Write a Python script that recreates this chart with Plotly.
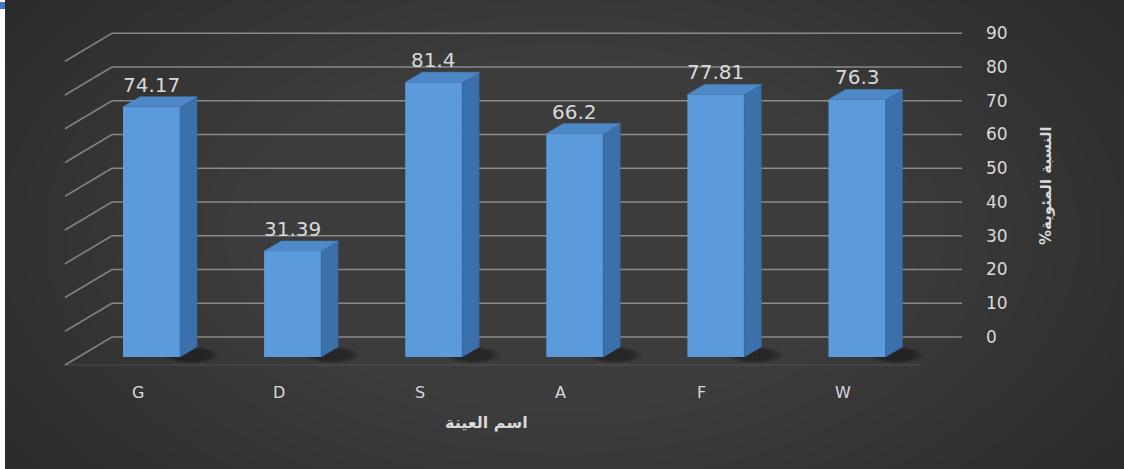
import plotly.graph_objects as go

# Sample names and their organic percentage
categories = ["G", "D", "S", "A", "F", "W"]
values = [74.17, 31.39, 81.4, 66.2, 77.81, 76.3]
tick_values = [0, 10, 20, 30, 40, 50, 60, 70, 80, 90]

W, H = 1124, 469
PX_PER_CAT = 141.1          # horizontal pixels per category step
PX_PER_UNIT = 3.375         # vertical pixels per percent
FIRST_CENTER_PX = 151.5
FRONT_ZERO_PX = 357         # floor line of the bar fronts
BACK_ZERO_PX = 337          # floor line of the back wall
BAR_W = 0.404               # bar width in category units

x0 = -FIRST_CENTER_PX / PX_PER_CAT
x_range = [x0, x0 + W / PX_PER_CAT]
y_range = [-(H - FRONT_ZERO_PX) / PX_PER_UNIT, FRONT_ZERO_PX / PX_PER_UNIT]
y2_range = [-(H - BACK_ZERO_PX) / PX_PER_UNIT, BACK_ZERO_PX / PX_PER_UNIT]


def ux(px):
    return (px - FIRST_CENTER_PX) / PX_PER_CAT


# depth of the bar boxes (right / up)
DX = 17 / PX_PER_CAT
DY = 10 / PX_PER_UNIT

TEXT = "#d9d9d9"
FONT = "DejaVu Sans"

shapes = []

# soft radial lightening of the background
steps = 22
for i in range(steps):
    f = i / (steps - 1)
    shapes.append(dict(type="circle", xref="paper", yref="paper",
                       x0=-0.2 + 0.42 * f, x1=1.2 - 0.42 * f,
                       y0=-0.5 + 0.62 * f, y1=1.5 - 0.62 * f,
                       fillcolor="rgba(255,255,255,0.0085)", line_width=0, layer="below"))

# back wall grid lines and the matching slanted lines on the left wall
wall_left, wall_right, wall_front = ux(112), ux(962), ux(65)
slant = 28 / PX_PER_UNIT
for t in tick_values:
    shapes.append(dict(type="line", xref="x", yref="y2", x0=wall_left, x1=wall_right,
                       y0=t, y1=t, line=dict(color="rgba(205,205,205,0.55)", width=1.6),
                       layer="below"))
    shapes.append(dict(type="line", xref="x", yref="y2", x0=wall_front, x1=wall_left,
                       y0=t - slant, y1=t, line=dict(color="rgba(205,205,205,0.5)", width=1.6),
                       layer="below"))

# faint front edge of the floor
shapes.append(dict(type="line", xref="x", yref="y", x0=wall_front, x1=ux(920),
                   y0=-8 / PX_PER_UNIT, y1=-8 / PX_PER_UNIT,
                   line=dict(color="rgba(255,255,255,0.06)", width=2), layer="below"))

# bar shadows, side faces and top faces
for i, v in enumerate(values):
    xl, xr = i - BAR_W / 2, i + BAR_W / 2
    for k in range(5):
        grow = (4 - k) * 0.018
        shapes.append(dict(type="circle", xref="x", yref="y",
                           x0=xr - 0.05 - grow, x1=xr + DX + 0.08 + grow,
                           y0=-1.2 - grow * 9, y1=2.4 + grow * 9,
                           fillcolor="rgba(0,0,0,0.08)", line_width=0, layer="below"))
    shapes.append(dict(type="path", xref="x", yref="y",
                       path=f"M{xr},{0} L{xr + DX},{DY} L{xr + DX},{v + DY} L{xr},{v} Z",
                       fillcolor="#3b70ab", line=dict(color="#35679e", width=0.5), layer="above"))
    shapes.append(dict(type="path", xref="x", yref="y",
                       path=f"M{xl},{v} L{xl + DX},{v + DY} L{xr + DX},{v + DY} L{xr},{v} Z",
                       fillcolor="#4f88c6", line=dict(color="#4a82bf", width=0.5), layer="above"))

# screen-capture edge details
shapes.append(dict(type="rect", xref="paper", yref="paper", x0=0, x1=5 / W, y0=0, y1=1,
                   fillcolor="white", line_width=0, layer="above"))
shapes.append(dict(type="rect", xref="paper", yref="paper", x0=0, x1=5 / W,
                   y0=1 - 9 / H, y1=1 - 2 / H, fillcolor="#4472c4", line_width=0, layer="above"))

annotations = []
for i, v in enumerate(values):
    annotations.append(dict(x=i, y=v, xref="x", yref="y", text=f"{v}", showarrow=False,
                            yshift=22, font=dict(family=FONT, size=20, color=TEXT)))
for i, c in enumerate(categories):
    annotations.append(dict(x=i, y=0, xref="x", yref="y", text=c, showarrow=False,
                            xshift=-14, yshift=-35, font=dict(family=FONT, size=16, color=TEXT)))

annotations.append(dict(x=486 / W, y=1 - 422 / H, xref="paper", yref="paper",
                        xanchor="center", yanchor="middle",
                        text="<b>اسم العينة</b>", showarrow=False,
                        font=dict(family=FONT, size=16, color=TEXT)))
annotations.append(dict(x=1046 / W, y=1 - 186 / H, xref="paper", yref="paper",
                        xanchor="center", yanchor="middle",
                        text="<b>النسبة المئوية%\u200f</b>", showarrow=False, textangle=-90,
                        font=dict(family=FONT, size=15, color=TEXT)))

fig = go.Figure()
fig.add_trace(go.Bar(x=list(range(len(categories))), y=values, width=BAR_W,
                     marker=dict(color="#5b9bdc", line=dict(width=0)),
                     hoverinfo="skip", showlegend=False))
fig.add_trace(go.Scatter(x=[None], y=[None], yaxis="y2", showlegend=False, hoverinfo="skip"))

fig.update_layout(
    width=W, height=H,
    margin=dict(l=0, r=0, t=0, b=0),
    paper_bgcolor="#262626",
    plot_bgcolor="rgba(0,0,0,0)",
    showlegend=False,
    xaxis=dict(range=x_range, visible=False, fixedrange=True),
    yaxis=dict(range=y_range, visible=False, fixedrange=True),
    yaxis2=dict(range=y2_range, overlaying="y", side="right", anchor="free",
                position=985 / W, ticklabelposition="outside",
                tickvals=tick_values, showgrid=False, zeroline=False,
                showline=False, ticks="", tickfont=dict(family=FONT, size=17, color=TEXT),
                fixedrange=True),
    shapes=shapes,
    annotations=annotations,
)

fig.write_html("out.html")
